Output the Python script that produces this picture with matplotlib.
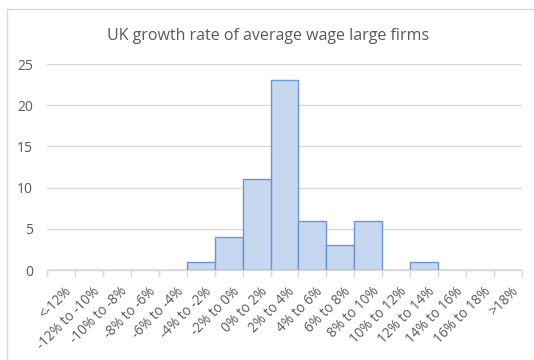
import matplotlib
matplotlib.use("Agg")
from matplotlib import pyplot as plt, rcParams
from matplotlib.patches import Rectangle
from matplotlib.transforms import ScaledTranslation
import numpy as np

rcParams["font.family"] = ["Open Sans", "DejaVu Sans"]

bins = ["<-12%", "-12% to -10%", "-10% to -8%", "-8% to -6%", "-6% to -4%",
        "-4% to -2%", "-2% to 0%", "0% to 2%", "2% to 4%", "4% to 6%",
        "6% to 8%", "8% to 10%", "10% to 12%", "12% to 14%", "14% to 16%",
        "16% to 18%", ">18%"]
counts = [0, 0, 0, 0, 0, 1, 4, 11, 23, 6, 3, 6, 0, 1, 0, 0, 0]
yticks = [0, 5, 10, 15, 20, 25]

grid_col = "#d9d9d9"
text_col = "#595959"

fig = plt.figure(figsize=(5.34, 3.6), dpi=100)
fig.patches.append(Rectangle((7 / 534, -0.1), 1.0, (360 - 8.5) / 360 + 0.1,
                             transform=fig.transFigure, fill=False,
                             edgecolor=grid_col, linewidth=1.0))
ax = fig.add_axes([47 / 534, 90 / 360, 475 / 534, 206 / 360])

x = np.arange(len(bins))
ax.bar(x, counts, width=1.0, color="#c5d8ef", edgecolor="#6d95d0",
       linewidth=1.0, zorder=3)

ax.set_xlim(-0.5, len(bins) - 0.5)
ax.set_ylim(0, 25)
ax.set_yticks(yticks)
ax.set_yticklabels([str(v) for v in yticks], fontsize=10, color=text_col)
ax.yaxis.grid(True, color=grid_col, linewidth=1.0, zorder=0)
ax.tick_params(axis="y", length=0, pad=10)

ax.set_xticks(x)
ax.set_xticklabels(bins, rotation=45, ha="right", rotation_mode="anchor",
                   fontsize=9.8, color=text_col)
ax.tick_params(axis="x", which="major", length=0, pad=10)
# slanted labels end a touch right of the bin centre
shift = ScaledTranslation(3 / 100, 0, fig.dpi_scale_trans)
for lbl in ax.get_xticklabels():
    lbl.set_transform(lbl.get_transform() + shift)
ax.set_xticks(np.arange(len(bins) + 1) - 0.5, minor=True)
ax.tick_params(axis="x", which="minor", length=5, color=grid_col, width=1.0)

for s in ["top", "right", "left"]:
    ax.spines[s].set_visible(False)
ax.spines["bottom"].set_color(grid_col)
ax.spines["bottom"].set_linewidth(1.0)

fig.text(268 / 534, 1 - 36 / 360, "UK growth rate of average wage large firms",
         ha="center", va="center", fontsize=11.5, color=text_col)

fig.savefig("out.png", dpi=100)
